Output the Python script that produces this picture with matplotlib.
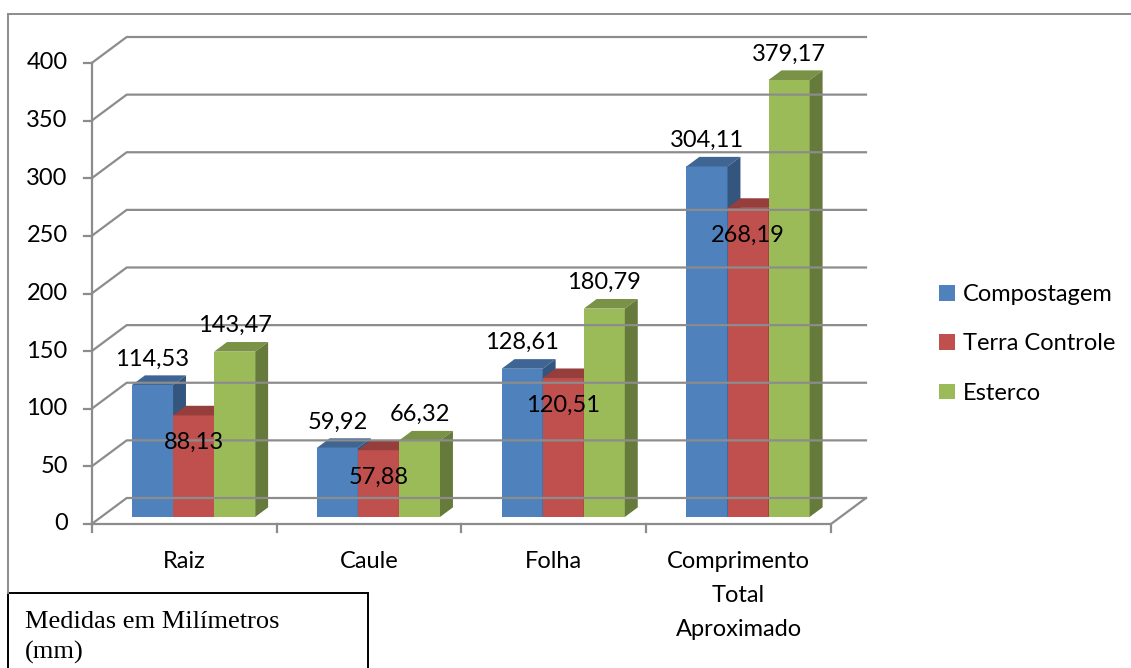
import numpy as np
import matplotlib.pyplot as plt
from matplotlib.patches import Polygon, Rectangle, Patch
from matplotlib.lines import Line2D
from matplotlib.colors import to_rgb

plt.rcParams['font.family'] = ['Lato', 'DejaVu Sans']

# data
categories = ['Raiz', 'Caule', 'Folha', 'Comprimento\nTotal\nAproximado']
series = ['Compostagem', 'Terra Controle', 'Esterco']
compostagem = [114.53, 59.92, 128.61, 304.11]
terra_controle = [88.13, 57.88, 120.51, 268.19]
esterco = [143.47, 66.32, 180.79, 379.17]
values = [compostagem, terra_controle, esterco]
colors = ['#4F81BD', '#C0504D', '#9BBB59']
yticks = [0, 50, 100, 150, 200, 250, 300, 350, 400]


def shade(c, k):
    return tuple(np.array(to_rgb(c)) * k)


def fmt(v):
    return f'{v:.2f}'.replace('.', ',')


W, H = 1131, 668
fig = plt.figure(figsize=(W / 100, H / 100), dpi=100)
fs = 17

# front plot box in pixels
x0, x1 = 91.7, 831
y0, y1 = 524, 63
ax = fig.add_axes([x0 / W, 1 - y0 / H, (x1 - x0) / W, (y0 - y1) / H])
ax.set_xlim(0, len(categories))
ax.set_ylim(0, 400)
ax.axis('off')
px_x = len(categories) / (x1 - x0)
px_y = 400 / (y0 - y1)
DX, DY = 35 * px_x, 26 * px_y  # depth of the 3d walls

grid = '#8C8C8C'
nc = len(categories)
# back wall gridlines
for v in yticks:
    ax.plot([0, DX, nc + DX], [v, v + DY, v + DY], color=grid, lw=1.6, clip_on=False)
    ax.plot([-8 * px_x, 0], [v, v], color=grid, lw=1.6, clip_on=False)
    ax.text(-24 * px_x, v, str(v), ha='right', va='center', fontsize=fs)
# front axes
ax.plot([0, 0], [0, 400], color=grid, lw=1.6, clip_on=False)
ax.plot([0, nc, nc + DX], [0, 0, DY], color=grid, lw=1.6, clip_on=False)
for i in range(nc + 1):
    ax.plot([i, i], [0, -8 * px_y], color=grid, lw=1.6, clip_on=False)

# bars
w = 1 / (len(series) + 1.5)
f0, f1 = 0.27, 0.64
a0, b0 = f0 * DX, f0 * DY
a1, b1 = f1 * DX, f1 * DY
for i in range(nc):
    start = i + 0.75 * w
    for s in range(len(series)):
        v = values[s][i]
        c = colors[s]
        xl = start + s * w
        xr = xl + w
        front = Polygon([(xl + a0, b0), (xr + a0, b0), (xr + a0, v + b0), (xl + a0, v + b0)],
                        closed=True, fc=c, ec='none', clip_on=False)
        top = Polygon([(xl + a0, v + b0), (xr + a0, v + b0), (xr + a1, v + b1), (xl + a1, v + b1)],
                      closed=True, fc=shade(c, 0.78), ec='none', clip_on=False)
        side = Polygon([(xr + a0, b0), (xr + a1, b1), (xr + a1, v + b1), (xr + a0, v + b0)],
                       closed=True, fc=shade(c, 0.66), ec='none', clip_on=False)
        for p in (front, top, side):
            ax.add_patch(p)
        cx = xl + a0 + w / 2
        if s == 1:
            ty = v + b0 - 27 * px_y
        else:
            ty = v + b0 + 26 * px_y
        ax.text(cx, ty, fmt(v), ha='center', va='center', fontsize=fs)

# category labels
for i, name in enumerate(categories):
    ax.text(i + 0.5, -27 * px_y, name, ha='center', va='top', fontsize=fs, linespacing=1.75)

# legend
handles = [Patch(fc=c, ec='none') for c in colors]
fig.legend(handles, series, loc='center left', bbox_to_anchor=(918 / W, 1 - 344 / H),
           frameon=False, fontsize=fs, handlelength=0.65, handleheight=0.65,
           handletextpad=0.35, labelspacing=1.2)

# chart border (top and left visible)
fig.add_artist(Line2D([8 / W, 1], [1 - 14 / H, 1 - 14 / H], color='#8C8C8C', lw=1.4))
fig.add_artist(Line2D([8 / W, 8 / W], [1 - 14 / H, 1 - 593 / H], color='#8C8C8C', lw=1.4))

# note box
fig.add_artist(Rectangle((8 / W, -0.05), 360 / W, 0.05 + 75 / H, transform=fig.transFigure,
                         fc='white', ec='black', lw=1.4))
fig.text(25 / W, 1 - 611 / H, 'Medidas em Milímetros\n(mm)', ha='left', va='top',
         fontsize=19, family=['Liberation Serif'], linespacing=1.42)

fig.savefig('out.png', dpi=100)
